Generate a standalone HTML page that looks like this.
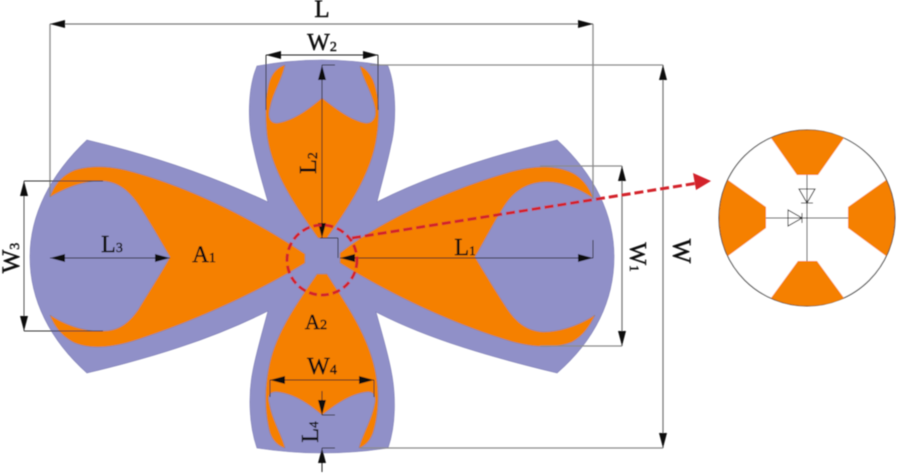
<!DOCTYPE html>
<html>
<head>
<meta charset="utf-8">
<style>
html,body{margin:0;padding:0;background:#fff;width:900px;height:476px;overflow:hidden}
svg{display:block}
text{font-family:"Liberation Serif",serif;fill:#111;stroke:#111;stroke-width:.45}
</style>
</head>
<body>
<svg width="900" height="476" viewBox="0 0 900 476" xmlns="http://www.w3.org/2000/svg">
<defs>
<filter id="b" x="-5%" y="-5%" width="110%" height="110%"><feGaussianBlur stdDeviation="0.55"/></filter>
<marker id="a" markerWidth="16" markerHeight="10" refX="15" refY="5" orient="auto-start-reverse" markerUnits="userSpaceOnUse"><path d="M0 1 L15 5 L0 9 Z" fill="#111"/></marker>
</defs>
<g filter="url(#b)">
<!-- purple body -->
<path fill="#9090c8" stroke="#7f7fb5" stroke-width="0.6" d="M257 66 Q290 60 322 60 Q355 60 388 66 C397 90 396 125 391 145 C387 165 381 185 377 202 C430 175 495 155 557 140 C595 175 614 215 614 257 C614 300 595 340 557 373 C495 358 430 340 376 312 C381 330 387 350 391 370 C396 395 396 425 388 448 Q355 453 322 453 Q290 453 257 448 C249 425 248 395 253 370 C257 350 263 330 268 311 C210 340 150 358 87 373 C50 340 30 300 30 257 C30 215 50 175 87 140 C150 155 210 175 268 202 C263 185 257 165 253 145 C248 125 247 90 257 66 Z"/>
<!-- top petal -->
<path fill="#f58000" stroke="#8a7a70" stroke-width="0.5" d="M318 238 L327 238 C345 212 372 175 377 135 C380 115 379 95 373 80 C369 72 365 68 360 66 C363 80 372 92 375 108 C377 118 372 124 365 123 C350 120 335 108 322 98 C310 108 295 120 278 123 C271 124 267 118 270 108 C273 92 282 80 285 65 C278 67 273 72 270 80 C265 95 265 115 267 135 C272 175 300 212 318 238 Z"/>
<!-- bottom petal -->
<path fill="#f58000" stroke="#8a7a70" stroke-width="0.5" d="M317 274 L327 274 C340 295 362 325 372 358 C380 385 380 410 373 433 C370 441 365 446 359 448 C362 435 372 420 375 402 C376 394 372 391 366 392 C350 394 335 405 322 415 C310 405 295 394 278 392 C271 391 267 395 269 402 C272 420 282 435 285 448 C278 446 273 441 270 433 C264 410 264 385 271 358 C280 325 303 295 317 274 Z"/>
<!-- left petal -->
<path fill="#f58000" stroke="#8a7a70" stroke-width="0.5" d="M305 254 L305 263 C270 285 205 318 133 341 C110 348 90 349 75 343 C62 337 54 326 50 315 C65 325 85 332 103 331 C118 331 128 324 138 310 C150 290 160 275 170 257 C160 240 150 222 138 204 C128 190 118 182 103 181 C85 180 65 188 50 197 C54 185 62 175 75 170 C92 165 112 166 133 172 C205 192 270 230 305 254 Z"/>
<!-- right petal -->
<path fill="#f58000" stroke="#8a7a70" stroke-width="0.5" d="M340 253 L340 263 C375 285 440 320 510 341 C530 347 555 349 572 342 C583 336 590 326 595 315 C580 325 560 332 543 332 C528 331 518 324 508 310 C496 292 486 275 475 257 C486 238 494 222 505 205 C515 190 528 183 543 182 C560 181 578 188 593 198 C589 186 580 175 568 171 C552 165 532 166 510 172 C440 192 375 225 340 253 Z"/>
<!-- dimension lines -->
<g fill="none" stroke="#8a8a8a" stroke-width="1.3">
<path d="M50 24 H593 M50 24 V197 M593 24 V199"/>
<path d="M370 65 H663 M360 448 H663 M663 65 V448"/>
<path d="M540 166 H622 M540 346 H622 M622 166 V346"/>
</g>
<g fill="none" stroke="#333" stroke-width="1">
<path d="M24 181 H103 M24 331 H103"/>
<path d="M266 55 V110 M378 55 V110"/>
<path d="M270 380 V397 M374 380 V397"/>
<path d="M322 65 H335 M320 238 H338 M338 238 V258 M593 240 V258 M322 415 H335 M322 448 H335"/>
</g>
<g fill="none" stroke="#222" stroke-width="1">
<line x1="50" y1="24" x2="593" y2="24" stroke="#777" marker-start="url(#a)" marker-end="url(#a)"/>
<line x1="266" y1="55" x2="378" y2="55" marker-start="url(#a)" marker-end="url(#a)"/>
<line x1="322" y1="65" x2="322" y2="238" marker-start="url(#a)" marker-end="url(#a)"/>
<line x1="663" y1="65" x2="663" y2="448" stroke="#777" marker-start="url(#a)" marker-end="url(#a)"/>
<line x1="622" y1="166" x2="622" y2="346" stroke="#777" marker-start="url(#a)" marker-end="url(#a)"/>
<line x1="24" y1="181" x2="24" y2="331" stroke="#555" marker-start="url(#a)" marker-end="url(#a)"/>
<line x1="50" y1="258" x2="170" y2="258" marker-start="url(#a)" marker-end="url(#a)"/>
<line x1="340" y1="258" x2="593" y2="258" marker-start="url(#a)" marker-end="url(#a)"/>
<line x1="270" y1="380" x2="374" y2="380" marker-start="url(#a)" marker-end="url(#a)"/>
<line x1="322" y1="391" x2="322" y2="415" marker-end="url(#a)"/>
<line x1="322" y1="472" x2="322" y2="448" marker-end="url(#a)"/>
</g>
<!-- red callout -->
<circle cx="322" cy="260" r="35" fill="none" stroke="#d3242c" stroke-width="3" stroke-dasharray="8 4"/>
<line x1="352" y1="238" x2="698" y2="183" stroke="#d3242c" stroke-width="3" stroke-dasharray="9 4"/>
<path d="M711 181 L693 173 L696 190 Z" fill="#d3242c"/>
<!-- detail circle -->
<circle cx="807" cy="218" r="88" fill="#fff" stroke="#333" stroke-width="1"/>
<g fill="#f58000">
<path d="M771 138 A88 88 0 0 1 844 138 L818 175 H797 Z"/>
<path d="M728 180 L766 207 V228 L728 256 A88 88 0 0 1 728 180 Z"/>
<path d="M886 180 L848 207 V228 L886 256 A88 88 0 0 0 886 180 Z"/>
<path d="M798 261 H817 L844 298 A88 88 0 0 1 771 298 Z"/>
</g>
<g fill="none" stroke="#222" stroke-width="1">
<path d="M766 218 H848 M807 175 V261"/>
<path d="M799 189 H815 L807 203 Z M801 203 H813"/>
<path d="M788 210 V226 L802 218 Z M802 213 V223"/>
</g>
<!-- labels -->
<text x="322" y="17" font-size="25" text-anchor="middle">L</text>
<text x="322" y="50" font-size="24" text-anchor="middle">W<tspan font-size="14" dy="1">2</tspan></text>
<text transform="translate(316,163) rotate(-90)" font-size="24" text-anchor="middle">L<tspan font-size="14" dy="1">2</tspan></text>
<text x="112" y="252" font-size="24" text-anchor="middle">L<tspan font-size="14">3</tspan></text>
<text x="204" y="262" font-size="23" text-anchor="middle">A<tspan font-size="14">1</tspan></text>
<text x="465" y="255" font-size="24" text-anchor="middle">L<tspan font-size="13">1</tspan></text>
<text x="316" y="329" font-size="21" text-anchor="middle">A<tspan font-size="14">2</tspan></text>
<text x="322" y="374" font-size="24" text-anchor="middle">W<tspan font-size="14">4</tspan></text>
<text transform="translate(318,432) rotate(-90)" font-size="24" text-anchor="middle">L<tspan font-size="13">4</tspan></text>
<text transform="translate(19,258) rotate(-90)" font-size="25" text-anchor="middle">W<tspan font-size="14">3</tspan></text>
<text transform="translate(630,257) rotate(90)" font-size="24" text-anchor="middle">W<tspan font-size="13">1</tspan></text>
<text transform="translate(673,251) rotate(90)" font-size="26" text-anchor="middle">W</text>
</g>
</svg>
</body>
</html>
